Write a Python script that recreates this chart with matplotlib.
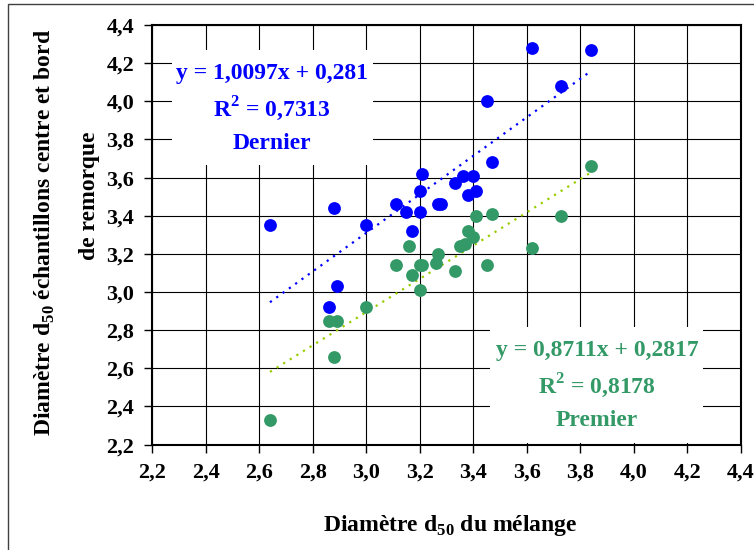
import matplotlib.pyplot as plt
import numpy as np
from matplotlib.patches import Rectangle
from matplotlib.ticker import FuncFormatter, MultipleLocator

plt.rcParams['font.family'] = 'Liberation Serif'
plt.rcParams['font.weight'] = 'bold'
plt.rcParams['mathtext.fontset'] = 'custom'
plt.rcParams['mathtext.rm'] = 'Liberation Serif:bold'
plt.rcParams['mathtext.bf'] = 'Liberation Serif:bold'

# Dernier (blue)
dernier_x = [2.64, 2.88, 2.86, 2.89, 3.00, 3.11, 3.15, 3.20, 3.17, 3.20, 3.21, 3.27,
             3.28, 3.33, 3.36, 3.40, 3.38, 3.41, 3.45, 3.47, 3.62, 3.73, 3.84]
dernier_y = [3.35, 3.44, 2.92, 3.03, 3.35, 3.46, 3.42, 3.42, 3.32, 3.53, 3.62, 3.46,
             3.46, 3.57, 3.61, 3.61, 3.51, 3.53, 4.00, 3.68, 4.28, 4.08, 4.27]

# Premier (green)
premier_x = [2.64, 2.88, 2.86, 2.89, 3.00, 3.20, 3.11, 3.17, 3.20, 3.21, 3.16, 3.26,
             3.27, 3.33, 3.35, 3.37, 3.38, 3.40, 3.41, 3.47, 3.45, 3.62, 3.73, 3.84]
premier_y = [2.33, 2.66, 2.85, 2.85, 2.92, 3.01, 3.14, 3.09, 3.14, 3.14, 3.24, 3.15,
             3.20, 3.11, 3.24, 3.25, 3.32, 3.29, 3.40, 3.41, 3.14, 3.23, 3.40, 3.66]

# trend line coefficients (from the chart labels)
dernier_fit = (1.0097, 0.281)
premier_fit = (0.8711, 0.2817)

blue = '#0000FF'
green = '#339966'
lime = '#99CC00'

fig = plt.figure(figsize=(7.54, 5.5), dpi=100)
ax = fig.add_axes([0.202, 0.1916, 0.7803, 0.7629])

# outer chart frame
fig.patches.append(Rectangle((8 / 754, -0.05), 1.2, 1.05 - 4 / 550,
                             transform=fig.transFigure, fill=False,
                             ec='#404040', lw=1.0))

ax.set_xlim(2.2, 4.4)
ax.set_ylim(2.2, 4.4)
ax.xaxis.set_major_locator(MultipleLocator(0.2))
ax.yaxis.set_major_locator(MultipleLocator(0.2))
fmt = FuncFormatter(lambda v, p: f"{v:.1f}".replace('.', ','))
ax.xaxis.set_major_formatter(fmt)
ax.yaxis.set_major_formatter(fmt)
ax.grid(True, color='black', lw=0.8, zorder=0)
ax.set_axisbelow(True)
for s in ax.spines.values():
    s.set_linewidth(1.5)
ax.tick_params(direction='out', length=6, width=1, pad=7, labelsize=16)
for lab in ax.get_xticklabels() + ax.get_yticklabels():
    lab.set_fontweight('bold')

# white label boxes (hide grid behind text)
ax.add_patch(Rectangle((0.0335, 0.666), 0.3415, 0.274, transform=ax.transAxes,
                       fc='white', ec='none', zorder=1))
ax.add_patch(Rectangle((0.574, 0.004), 0.362, 0.276, transform=ax.transAxes,
                       fc='white', ec='none', zorder=1))

# points
ax.scatter(dernier_x, dernier_y, s=85, color=blue, zorder=3, linewidths=0)
ax.scatter(premier_x, premier_y, s=85, color=green, zorder=3, linewidths=0)

# trend lines
xd = np.array([min(dernier_x), max(dernier_x)])
ax.plot(xd, dernier_fit[0] * xd + dernier_fit[1], color=blue, lw=1.6,
        ls=(0, (1, 2.5)), zorder=2)
xp = np.array([min(premier_x), max(premier_x)])
ax.plot(xp, premier_fit[0] * xp + premier_fit[1], color=lime, lw=1.6,
        ls=(0, (1, 2.5)), zorder=2)

# equations
kw = dict(transform=ax.transAxes, ha='center', va='center', fontsize=17,
          fontweight='bold', zorder=4)
ax.text(0.2034, 0.885, "y = 1,0097x + 0,281", color=blue, **kw)
ax.text(0.2034, 0.800, "R$^{2}$ = 0,7313", color=blue, **kw)
ax.text(0.2034, 0.718, "Dernier", color=blue, **kw)
ax.text(0.7557, 0.225, "y = 0,8711x + 0,2817", color=green, **kw)
ax.text(0.7557, 0.140, "R$^{2}$ = 0,8178", color=green, **kw)
ax.text(0.7557, 0.058, "Premier", color=green, **kw)

# axis titles
fig.text((322 + 578) / 2 / 754, 1 - 525 / 550, "Diamètre d$_{50}$ du mélange",
         ha='center', va='center', fontsize=17, fontweight='bold')
fig.text(45 / 754, 1 - 232 / 550, "Diamètre d$_{50}$ échantillons centre et bord",
         ha='center', va='center', rotation=90, fontsize=17, fontweight='bold')
fig.text(90 / 754, 1 - 196 / 550, "de remorque",
         ha='center', va='center', rotation=90, fontsize=17, fontweight='bold')

plt.savefig('out.png', dpi=100)
